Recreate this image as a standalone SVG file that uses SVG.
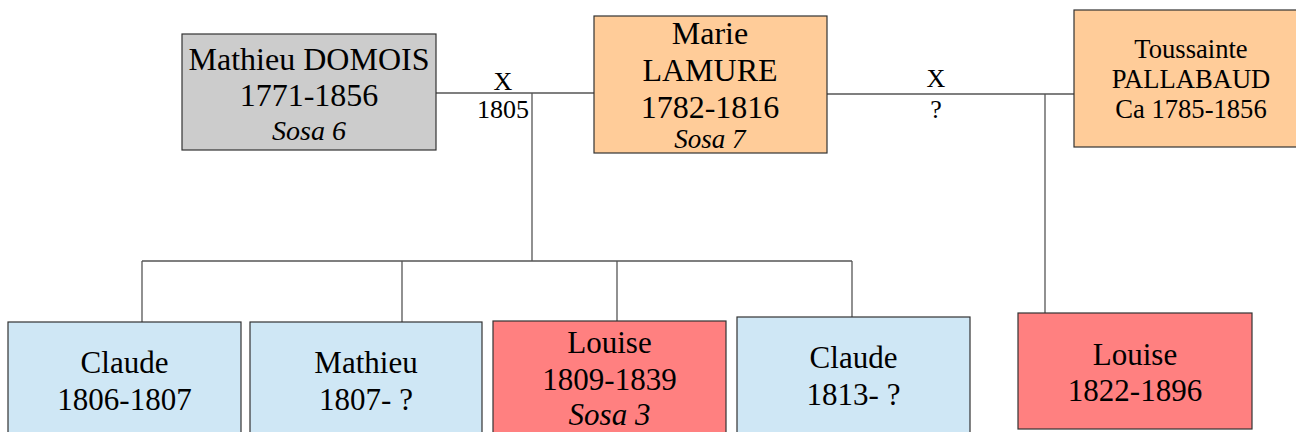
<svg xmlns="http://www.w3.org/2000/svg" width="1296" height="432" viewBox="0 0 1296 432">
<style>
.box{stroke:#333;stroke-width:1.2}
.grey{fill:#cccccc}
.peach{fill:#ffcc99}
.blue{fill:#cfe7f5}
.red{fill:#ff8080}
.conn line{stroke:#555;stroke-width:1.3}
</style>
<rect width="1296" height="432" fill="#fff"/>
<g font-family="Liberation Serif" text-anchor="middle" fill="#000">
<g class="conn" id="connectors">
<line x1="436" y1="93" x2="594" y2="93"/>
<line x1="532" y1="93" x2="532" y2="261"/>
<line x1="827" y1="94" x2="1074" y2="94"/>
<line x1="1045" y1="94" x2="1045" y2="313"/>
<line x1="142" y1="261" x2="852" y2="261"/>
<line x1="142" y1="261" x2="142" y2="322"/>
<line x1="402" y1="261" x2="402" y2="322"/>
<line x1="617" y1="261" x2="617" y2="321"/>
<line x1="852" y1="261" x2="852" y2="317"/>
<text font-size="26" x="503" y="90">X</text>
<text font-size="26" x="503" y="118">1805</text>
<text font-size="26" x="936" y="87">X</text>
<text font-size="26" x="936" y="118">?</text>
</g>
<g id="mathieu-domois" font-size="32">
<rect class="box grey" x="182" y="34" width="254" height="116"/>
<text x="309" y="70">Mathieu DOMOIS</text>
<text x="309" y="106">1771-1856</text>
<text font-size="28" font-style="italic" x="309" y="140">Sosa 6</text>
</g>
<g id="marie-lamure" font-size="32">
<rect class="box peach" x="594" y="16" width="233" height="137"/>
<text x="710" y="44">Marie</text>
<text x="710" y="81">LAMURE</text>
<text x="710" y="118">1782-1816</text>
<text font-size="27" font-style="italic" x="710" y="148">Sosa 7</text>
</g>
<g id="toussainte-pallabaud" font-size="26.6">
<rect class="box peach" x="1074" y="10" width="234" height="137"/>
<text x="1191" y="58">Toussainte</text>
<text x="1191" y="88">PALLABAUD</text>
<text x="1191" y="118">Ca 1785-1856</text>
</g>
<g id="claude-1806" font-size="31">
<rect class="box blue" x="8" y="322" width="233" height="120"/>
<text x="124.5" y="373">Claude</text>
<text x="124.5" y="410">1806-1807</text>
</g>
<g id="mathieu-1807" font-size="31">
<rect class="box blue" x="250" y="322" width="232" height="120"/>
<text x="366" y="373">Mathieu</text>
<text x="366" y="410">1807- ?</text>
</g>
<g id="louise-1809" font-size="31">
<rect class="box red" x="493" y="321" width="233" height="120"/>
<text x="609.5" y="353">Louise</text>
<text x="609.5" y="390">1809-1839</text>
<text font-style="italic" x="609.5" y="425">Sosa 3</text>
</g>
<g id="claude-1813" font-size="31">
<rect class="box blue" x="737" y="317" width="233" height="125"/>
<text x="853.5" y="368">Claude</text>
<text x="853.5" y="405">1813- ?</text>
</g>
<g id="louise-1822" font-size="31">
<rect class="box red" x="1018" y="313" width="234" height="116"/>
<text x="1135" y="365">Louise</text>
<text x="1135" y="401">1822-1896</text>
</g>
</g>
</svg>
